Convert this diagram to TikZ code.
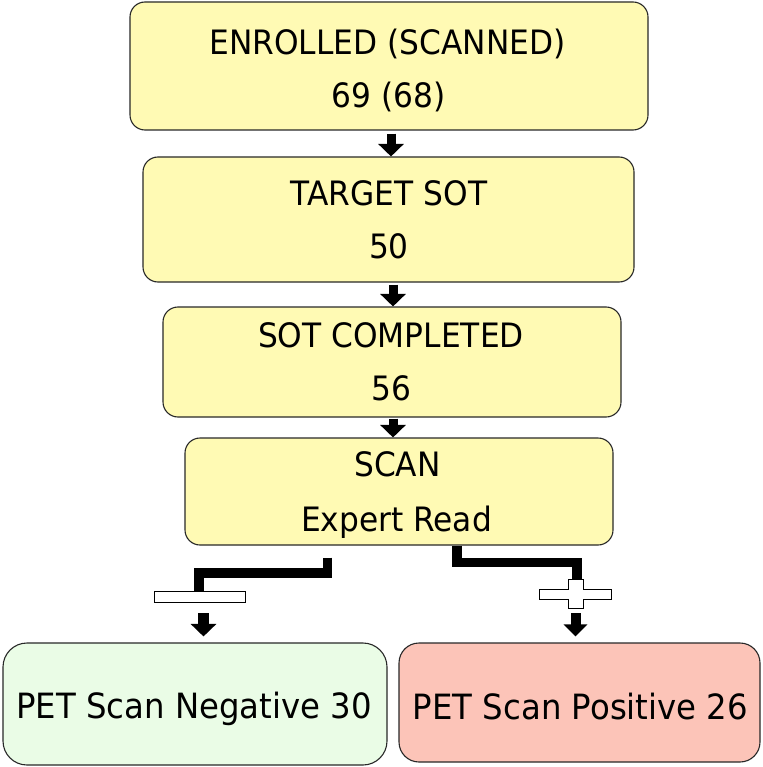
\documentclass[tikz,border=0pt]{standalone}
\usepackage{fontspec}
\setmainfont{DejaVu Sans}[FakeStretch=0.93]
\usetikzlibrary{arrows.meta,calc}
\definecolor{boxyellow}{RGB}{255,250,180}
\definecolor{boxgreen}{RGB}{234,252,230}
\definecolor{boxpink}{RGB}{252,196,184}
\definecolor{edgegray}{RGB}{40,40,40}
\tikzset{
  stage/.style={draw=edgegray, line width=1.1pt, fill=boxyellow, rounded corners=15pt, inner sep=0pt},
  result/.style={draw=edgegray, line width=1.1pt, inner sep=0pt},
  txt/.style={inner sep=0pt, anchor=center, text height=24.5pt, text depth=0pt,
    font=\fontsize{33.6}{40}\selectfont},
  bigtxt/.style={inner sep=0pt, anchor=center, text height=25.3pt, text depth=0pt,
    font=\fontsize{34.8}{42}\selectfont},
  blockarrow/.style={draw=black, line width=9pt,
    -{Triangle[width=25pt,length=12.5pt]}},
  elbow/.style={draw=black, line width=9.5pt, line join=miter},
  signshape/.style={draw=black, line width=0.9pt, fill=white},
}
\begin{document}
\begin{tikzpicture}[x=1pt,y=1pt]
\useasboundingbox (0,0) rectangle (762,-767);

% stage boxes
\node[stage, minimum width=518pt, minimum height=128pt] (b1) at (389,-66) {};
\node[stage, minimum width=491pt, minimum height=125pt] (b2) at (388.5,-219.5) {};
\node[stage, minimum width=458pt, minimum height=110pt] (b3) at (392,-362) {};
\node[stage, minimum width=428pt, minimum height=107pt] (b4) at (399,-491.5) {};

% result boxes
\node[result, fill=boxgreen, rounded corners=24pt, minimum width=384pt, minimum height=122pt] (neg) at (195,-704) {};
\node[result, fill=boxpink, rounded corners=20pt, minimum width=361pt, minimum height=119pt] (pos) at (579.5,-702.5) {};

% texts
\node[txt] (t1a) at (387.5,-42.5) {ENROLLED (SCANNED)};
\node[txt] (t1b) at (388.5,-95) {69 (68)};
\node[txt] (t2a) at (389,-193) {TARGET SOT};
\node[txt] (t2b) at (389,-246.5) {50};
\node[txt] (t3a) at (391,-335) {SOT COMPLETED};
\node[txt] (t3b) at (391.5,-388.5) {56};
\node[txt] (t4a) at (397.5,-464.5) {SCAN};
\node[txt] (t4b) at (396.5,-519.5) {Expert Read};
\node[bigtxt] (tn) at (194,-705.5) {PET Scan Negative 30};
\node[bigtxt] (tp) at (580.5,-707) {PET Scan Positive 26};

% vertical block arrows between stages
\draw[blockarrow] ($(b1.south)+(2,-3)$) -- ($(b2.north)+(2.5,0)$);
\draw[blockarrow] ($(b2.south)+(4.5,-2)$) -- ($(b3.north)+(1,0)$);
\draw[blockarrow] ($(b3.south)+(1,-1)$) -- ($(b4.north)+(-6,0)$);

% minus sign and plus sign
\node[signshape, minimum width=91pt, minimum height=11pt, inner sep=0pt] (minus) at (199.5,-596.5) {};
\coordinate (plus) at (575.5,-593.5);
\draw[signshape] (568,-579) -- (583,-579) -- (583,-589) -- (611,-589) -- (611,-599)
  -- (583,-599) -- (583,-608) -- (568,-608) -- (568,-599) -- (539,-599) -- (539,-589)
  -- (568,-589) -- cycle;

% elbow connectors
\coordinate (lstart) at ($(b4.south)+(-71.5,-12)$);
\draw[elbow] (lstart) |- (199,-573) -- (minus.north -| 199,0);
\coordinate (rstart) at ($(b4.south)+(58,0)$);
\draw[elbow] (rstart) |- (577,-562.5) -- (577,-580);

% arrows to results
\draw[blockarrow, line width=10.5pt] ($(minus.south)+(4,-11)$) -- ($(neg.north)+(8.5,6)$);
\draw[blockarrow, line width=10pt, -{Triangle[width=23pt,length=12pt]}] ($(plus)+(0,-19.5)$) -- ($(pos.north -| plus)+(0,6)$);
\end{tikzpicture}
\end{document}
